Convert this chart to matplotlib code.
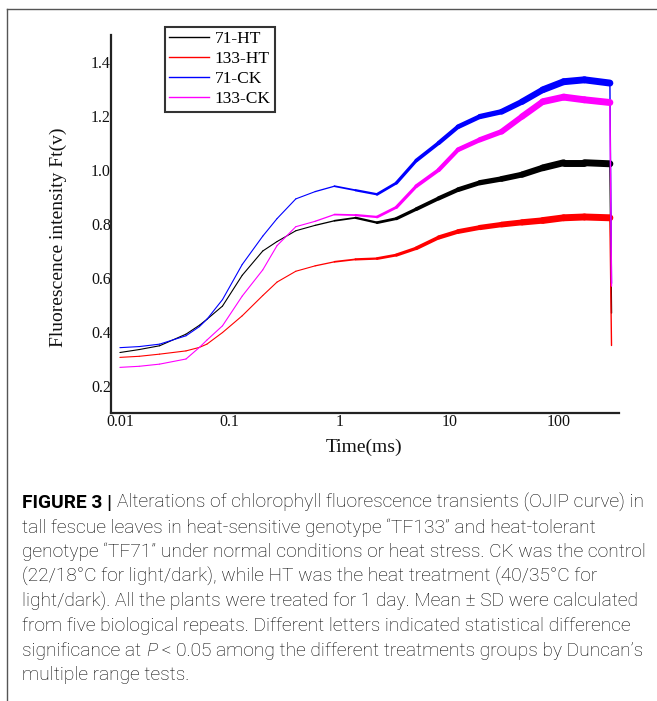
import numpy as np
import matplotlib
matplotlib.use("Agg")
import matplotlib.pyplot as plt
from matplotlib.collections import LineCollection
from matplotlib.lines import Line2D

# ---------------- data ----------------
time_ms = [0.01, 0.015, 0.023, 0.04, 0.053, 0.062, 0.086, 0.13, 0.2, 0.27, 0.4, 0.6,
           0.9, 1.4, 2.2, 3.3, 5, 8, 12, 19, 30, 46, 71, 110, 170, 290, 300]
ht71 = [0.324, 0.335, 0.349, 0.392, 0.425, 0.447, 0.496, 0.61, 0.70, 0.735, 0.775, 0.795,
        0.812, 0.823, 0.805, 0.82, 0.855, 0.895, 0.927, 0.953, 0.967, 0.983, 1.008, 1.027,
        1.027, 1.023, 0.47]
ht133 = [0.306, 0.31, 0.318, 0.33, 0.343, 0.355, 0.398, 0.46, 0.535, 0.585, 0.625, 0.645,
         0.66, 0.669, 0.672, 0.685, 0.71, 0.75, 0.772, 0.787, 0.798, 0.806, 0.813, 0.823,
         0.826, 0.823, 0.35]
ck71 = [0.342, 0.346, 0.355, 0.386, 0.42, 0.447, 0.52, 0.65, 0.755, 0.82, 0.893, 0.92,
        0.94, 0.925, 0.91, 0.952, 1.035, 1.10, 1.16, 1.198, 1.216, 1.253, 1.297, 1.327,
        1.334, 1.322, 0.58]
ck133 = [0.269, 0.273, 0.281, 0.30, 0.343, 0.37, 0.423, 0.533, 0.63, 0.72, 0.79, 0.81,
         0.835, 0.833, 0.826, 0.862, 0.94, 1.0, 1.075, 1.112, 1.142, 1.198, 1.253, 1.27,
         1.26, 1.25, 0.57]
series_labels = ["71-HT", "133-HT", "71-CK", "133-CK"]
series_values = [ht71, ht133, ck71, ck133]
series_colors = ["#000000", "#ff0000", "#0000ff", "#ff00ff"]

x_ticks = [0.01, 0.1, 1, 10, 100]
x_ticklabels = ["0.01", "0.1", "1", "10", "100"]
y_ticks = [0.2, 0.4, 0.6, 0.8, 1.0, 1.2, 1.4]
y_ticklabels = ["0.2", "0.4", "0.6", "0.8", "1.0", "1.2", "1.4"]

caption_lines = [
    [("FIGURE 3 | ", "bold"), ("Alterations of chlorophyll fluorescence transients (OJIP curve) in", "normal")],
    [("tall fescue leaves in heat-sensitive genotype \u201cTF133\u201d and heat-tolerant", "normal")],
    [("genotype \u201cTF71\u201d under normal conditions or heat stress. CK was the control", "normal")],
    [("(22/18\u00b0C for light/dark), while HT was the heat treatment (40/35\u00b0C for", "normal")],
    [("light/dark). All the plants were treated for 1 day. Mean \u00b1 SD were calculated", "normal")],
    [("from five biological repeats. Different letters indicated statistical difference", "normal")],
    [("significance at ", "normal"), ("P", "italic"),
     (" < 0.05 among the different treatments groups by Duncan\u2019s", "normal")],
    [("multiple range tests.", "normal")],
]

# ---------------- figure ----------------
W, H = 657, 701
fig = plt.figure(figsize=(W / 100, H / 100), dpi=100)
fig.patch.set_facecolor("white")

serif = ["Liberation Serif", "DejaVu Serif"]

ax = fig.add_axes([111 / W, 1 - 413 / H, (619 - 111) / W, (413 - 35) / H])
ax.set_xscale("log")
ax.set_xlim(0.0083, 351)
ax.set_ylim(0.1, 1.5)

t = np.asarray(time_ms, dtype=float)
for vals, col in zip(series_values, series_colors):
    v = np.asarray(vals, dtype=float)
    pts = np.column_stack([t, v])
    segs = np.stack([pts[:-1], pts[1:]], axis=1)
    tm = np.sqrt(t[:-1] * t[1:])
    widths = 0.8 + 4.2 * np.clip((np.log10(tm) + 0.2) / 2.2, 0, 1)
    widths[-1] = 1.0
    lc = LineCollection(segs, colors=col, linewidths=widths, capstyle="round",
                        joinstyle="round")
    ax.add_collection(lc)

for side in ["top", "right"]:
    ax.spines[side].set_visible(False)
for side in ["left", "bottom"]:
    ax.spines[side].set_color("#222222")
    ax.spines[side].set_linewidth(1.6)

ax.xaxis.set_major_locator(matplotlib.ticker.FixedLocator(x_ticks))
ax.xaxis.set_major_formatter(matplotlib.ticker.FixedFormatter(x_ticklabels))
ax.xaxis.set_minor_locator(matplotlib.ticker.NullLocator())
ax.yaxis.set_major_locator(matplotlib.ticker.FixedLocator(y_ticks))
ax.yaxis.set_major_formatter(matplotlib.ticker.FixedFormatter(y_ticklabels))
ax.tick_params(axis="both", length=0, labelsize=11.5, colors="#111111")
ax.tick_params(axis="x", pad=1)
ax.tick_params(axis="y", pad=0)
for lab in ax.get_xticklabels() + ax.get_yticklabels():
    lab.set_family(serif)

ax.set_xlabel("Time(ms)", fontsize=14, family=serif, color="#111111")
ax.set_ylabel("Fluorescence intensity Ft(v)", fontsize=14, family=serif, color="#111111")
ax.xaxis.set_label_coords((364 - 111) / (619 - 111), (413 - 447) / (413 - 35))
ax.yaxis.set_label_coords((58 - 111) / (619 - 111), (413 - 237) / (413 - 35))
ax.xaxis.label.set_va("center")
ax.yaxis.label.set_va("center")

handles = [Line2D([], [], color=c, lw=1.0) for c in series_colors]
leg = fig.legend(handles, series_labels, loc="upper left",
                 bbox_to_anchor=(165 / W, 1 - 27 / H), borderaxespad=0,
                 prop={"family": serif, "size": 12.5}, handlelength=2.3,
                 handletextpad=0.3, borderpad=0.25, labelspacing=0.22,
                 fancybox=False, framealpha=1, edgecolor="#333333")
leg.get_frame().set_linewidth(1.5)

# frame lines of the figure panel
fig.add_artist(Line2D([7 / W, 7 / W], [1 - 9 / H, 0], transform=fig.transFigure,
                      color="#555555", lw=1.0))
fig.add_artist(Line2D([7 / W, 1], [1 - 9 / H, 1 - 9 / H], transform=fig.transFigure,
                      color="#555555", lw=1.0))

# caption
renderer = fig.canvas.get_renderer()
cap_family = ["Roboto", "Lato", "DejaVu Sans"]


def style_kw(style, size):
    kw = {"fontsize": size, "family": cap_family, "weight": "light"}
    if style == "bold":
        kw["weight"] = "bold"
    elif style == "italic":
        kw["style"] = "italic"
    return kw


def piece_width(txt, style, size):
    kw = style_kw(style, size)
    a = fig.text(0, 0, txt + "|", **kw)
    b = fig.text(0, 0, "|", **kw)
    w = a.get_window_extent(renderer).width - b.get_window_extent(renderer).width
    a.remove()
    b.remove()
    return w


base = 10.0
w1 = sum(piece_width(s, st, base) for s, st in caption_lines[0])
cap_size = base * 621.0 / w1

x0 = 22
y_first = 508
line_gap = 24.6
for i, line in enumerate(caption_lines):
    x = x0
    y = y_first + i * line_gap
    for s, st in line:
        kw = style_kw(st, cap_size)
        fig.text(x / W, 1 - y / H, s, ha="left", va="baseline", color="#000000", **kw)
        x += piece_width(s, st, cap_size)

fig.savefig("out.png", dpi=100, facecolor="white")
